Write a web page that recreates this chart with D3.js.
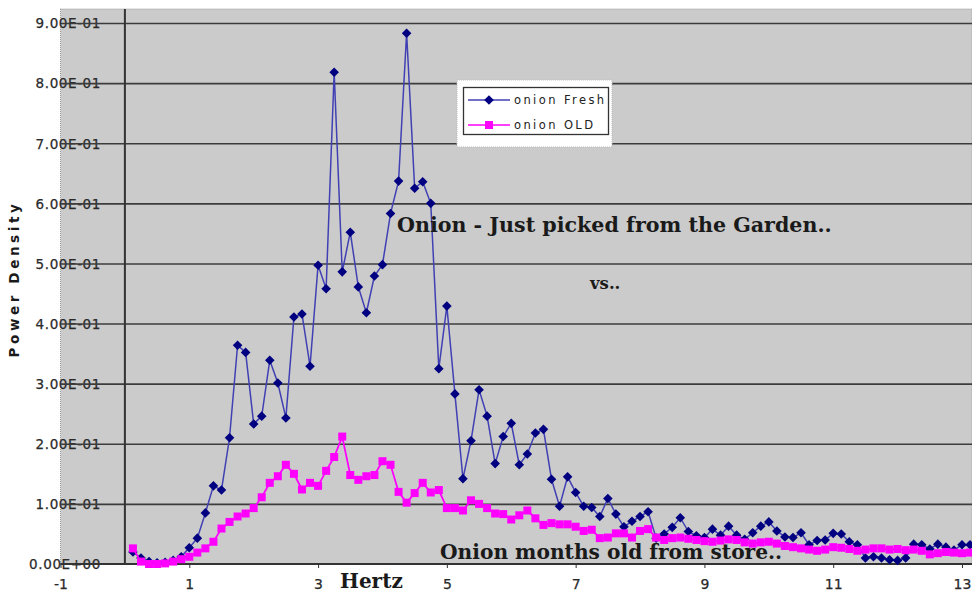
<!DOCTYPE html>
<html><head><meta charset="utf-8">
<script src="https://cdn.jsdelivr.net/npm/d3@7"></script>
<style>body{margin:0;background:#fff}svg{display:block;background:#fff}</style>
</head><body><svg id="c" width="972" height="598"></svg>
<script>
const hertz=[0.125,0.25,0.375,0.5,0.625,0.75,0.875,1,1.125,1.25,1.375,1.5,1.625,1.75,1.875,2,2.125,2.25,2.375,2.5,2.625,2.75,2.875,3,3.125,3.25,3.375,3.5,3.625,3.75,3.875,4,4.125,4.25,4.375,4.5,4.625,4.75,4.875,5,5.125,5.25,5.375,5.5,5.625,5.75,5.875,6,6.125,6.25,6.375,6.5,6.625,6.75,6.875,7,7.125,7.25,7.375,7.5,7.625,7.75,7.875,8,8.125,8.25,8.375,8.5,8.625,8.75,8.875,9,9.125,9.25,9.375,9.5,9.625,9.75,9.875,10,10.125,10.25,10.375,10.5,10.625,10.75,10.875,11,11.125,11.25,11.375,11.5,11.625,11.75,11.875,12,12.125,12.25,12.375,12.5,12.625,12.75,12.875,13,13.125];
const onionFresh=[0.020,0.010,0.004,0.002,0.003,0.006,0.012,0.027,0.043,0.085,0.130,0.123,0.210,0.364,0.352,0.233,0.246,0.339,0.301,0.243,0.411,0.416,0.329,0.497,0.458,0.818,0.486,0.552,0.461,0.418,0.479,0.498,0.583,0.637,0.883,0.625,0.636,0.600,0.325,0.429,0.283,0.142,0.205,0.290,0.246,0.167,0.212,0.234,0.165,0.183,0.218,0.224,0.141,0.096,0.145,0.119,0.096,0.094,0.079,0.109,0.083,0.062,0.071,0.079,0.087,0.043,0.050,0.061,0.077,0.054,0.047,0.044,0.058,0.048,0.063,0.048,0.041,0.052,0.063,0.070,0.055,0.045,0.044,0.052,0.032,0.039,0.040,0.051,0.050,0.037,0.032,0.010,0.012,0.010,0.007,0.006,0.010,0.033,0.032,0.025,0.033,0.028,0.023,0.032,0.032];
const onionOld=[0.026,0.004,0.000,0.000,0.001,0.004,0.008,0.012,0.019,0.026,0.037,0.059,0.070,0.079,0.084,0.093,0.111,0.135,0.146,0.165,0.150,0.124,0.135,0.130,0.155,0.178,0.212,0.148,0.140,0.146,0.148,0.171,0.165,0.120,0.102,0.118,0.135,0.119,0.123,0.093,0.093,0.089,0.106,0.100,0.093,0.084,0.083,0.074,0.081,0.089,0.076,0.065,0.068,0.066,0.066,0.062,0.055,0.057,0.043,0.044,0.051,0.051,0.044,0.055,0.058,0.044,0.040,0.043,0.044,0.042,0.040,0.038,0.037,0.039,0.041,0.040,0.036,0.034,0.036,0.037,0.034,0.030,0.028,0.026,0.024,0.022,0.024,0.028,0.027,0.025,0.022,0.024,0.026,0.026,0.024,0.025,0.023,0.024,0.022,0.016,0.018,0.020,0.019,0.018,0.019];
const xTicks=[-1,1,3,5,7,9,11,13];
const yTicks=[0,0.1,0.2,0.3,0.4,0.5,0.6,0.7,0.8,0.9];
const seriesNames=["onion Fresh","onion OLD"];
const xTitle="Hertz";
const yTitle="Power Density";
const noteFresh="Onion - Just picked from the Garden..";
const noteVs="vs..";
const noteOld="Onion months old from store..";

const svg=d3.select("#c");
const W=972;
const x=d3.scaleLinear().domain([-1,13]).range([60.5,962]);
const y=d3.scaleLinear().domain([0,0.9]).range([564,23]);
const plotTop=9, plotLeft=x(-1), plotBottom=y(0);

function sci(v){
  if(v===0) return "0.00E+00";
  const e=Math.floor(Math.log10(v)+1e-9);
  const m=v/Math.pow(10,e);
  return m.toFixed(2)+"E"+(e<0?"-":"+")+String(Math.abs(e)).padStart(2,"0");
}

// plot background
svg.append("rect").attr("x",plotLeft).attr("y",plotTop).attr("width",W-plotLeft).attr("height",plotBottom-plotTop)
  .attr("fill","#cbcbcb").attr("stroke","#9a9a9a").attr("stroke-dasharray","1,1");

// y tick labels (drawn under gridlines)
const ya=svg.append("g").attr("transform","translate(101,0)")
  .call(d3.axisLeft(y).tickValues(yTicks).tickSize(0).tickPadding(0).tickFormat(sci));
ya.select(".domain").remove();
ya.selectAll("text").attr("font-family","DejaVu Sans, sans-serif").attr("font-size",13.5).attr("letter-spacing","0.6")
  .attr("fill","#2a2a2a").attr("stroke","#2a2a2a").attr("stroke-width",0.25).attr("dy","0.36em");

// gridlines
const grid=svg.append("g").attr("transform",`translate(${plotLeft},0)`)
  .call(d3.axisLeft(y).tickValues(yTicks.slice(1)).tickSize(-(W-plotLeft)).tickFormat(""));
grid.select(".domain").remove();
grid.selectAll("line").attr("stroke","#3c3c3c").attr("stroke-width",1.6);

// y axis line at x=0
svg.append("line").attr("x1",x(0)).attr("x2",x(0)).attr("y1",plotTop).attr("y2",plotBottom)
  .attr("stroke","#333").attr("stroke-width",2);

// x axis
const xa=svg.append("g").attr("transform",`translate(0,${plotBottom})`)
  .call(d3.axisBottom(x).tickValues(xTicks).tickSize(4).tickPadding(11).tickFormat(d=>String(d)));
xa.select(".domain").attr("d",`M${plotLeft},0H${W}`).attr("stroke","#333").attr("stroke-width",2);
xa.selectAll("line").attr("stroke","#333");
xa.selectAll("text").attr("font-family","DejaVu Sans, sans-serif").attr("font-size",14).attr("fill","#2a2a2a")
  .attr("stroke","#2a2a2a").attr("stroke-width",0.25);

// series
const fresh=hertz.map((h,i)=>({h,v:onionFresh[i]}));
const old=hertz.map((h,i)=>({h,v:onionOld[i]}));
const line=d3.line().x(d=>x(d.h)).y(d=>y(d.v));
const diamond="M0,-4.8L4.8,0L0,4.8L-4.8,0Z";
const sq=8;

svg.append("path").datum(fresh).attr("d",line).attr("fill","none").attr("stroke","#4040b4").attr("stroke-width",1.5);
svg.append("g").selectAll("path").data(fresh).join("path")
  .attr("transform",d=>`translate(${x(d.h)},${y(d.v)})`).attr("d",diamond).attr("fill","#000080");

svg.append("path").datum(old).attr("d",line).attr("fill","none").attr("stroke","#ff00ff").attr("stroke-width",1.8);
svg.append("g").selectAll("rect").data(old).join("rect")
  .attr("x",d=>x(d.h)-sq/2).attr("y",d=>y(d.v)-sq/2).attr("width",sq).attr("height",sq).attr("fill","#ff00ff");

// annotations
const serif="DejaVu Serif, Liberation Serif, serif";
svg.append("text").attr("x",397).attr("y",232).text(noteFresh)
  .attr("font-family",serif).attr("font-weight","bold").attr("font-size",20.6).attr("fill","#1a1a1a");
svg.append("text").attr("x",590).attr("y",289).text(noteVs)
  .attr("font-family",serif).attr("font-weight","bold").attr("font-size",16.5).attr("fill","#1a1a1a");
svg.append("text").attr("x",440).attr("y",559).text(noteOld)
  .attr("font-family",serif).attr("font-weight","bold").attr("font-size",20.2).attr("fill","#1a1a1a");

// axis titles
svg.append("text").attr("x",340).attr("y",588).text(xTitle)
  .attr("font-family",serif).attr("font-weight","bold").attr("font-size",20).attr("fill","#1a1a1a");
svg.append("text").attr("transform","translate(19,279) rotate(-90)").attr("text-anchor","middle").text(yTitle)
  .attr("font-family","DejaVu Sans, sans-serif").attr("font-weight","bold").attr("font-size",13.5).attr("letter-spacing","3.6").attr("fill","#1a1a1a");

// legend
const lg=svg.append("g");
lg.append("rect").attr("x",457).attr("y",80).attr("width",155).attr("height",67).attr("fill","#fff")
  .attr("stroke","#bbb").attr("stroke-dasharray","1,1");
lg.append("rect").attr("x",463.5).attr("y",87.5).attr("width",145).attr("height",47).attr("fill","#fff")
  .attr("stroke","#333").attr("stroke-width",1.3);
const items=[{name:seriesNames[0],c:"#4040b4",m:"#000080",shape:"d"},{name:seriesNames[1],c:"#ff00ff",m:"#ff00ff",shape:"s"}];
items.forEach((it,i)=>{
  const yy=100+i*25;
  lg.append("line").attr("x1",468).attr("x2",510).attr("y1",yy).attr("y2",yy).attr("stroke",it.c).attr("stroke-width",1.5);
  if(it.shape==="d") lg.append("path").attr("transform",`translate(489,${yy})`).attr("d",diamond).attr("fill",it.m);
  else lg.append("rect").attr("x",489-sq/2).attr("y",yy-sq/2).attr("width",sq).attr("height",sq).attr("fill",it.m);
  lg.append("text").attr("x",514).attr("y",yy).attr("dy","0.35em").text(it.name)
    .attr("font-family","DejaVu Sans, sans-serif").attr("font-size",11.5).attr("letter-spacing","2.4").attr("fill","#222");
});
</script></body></html>
